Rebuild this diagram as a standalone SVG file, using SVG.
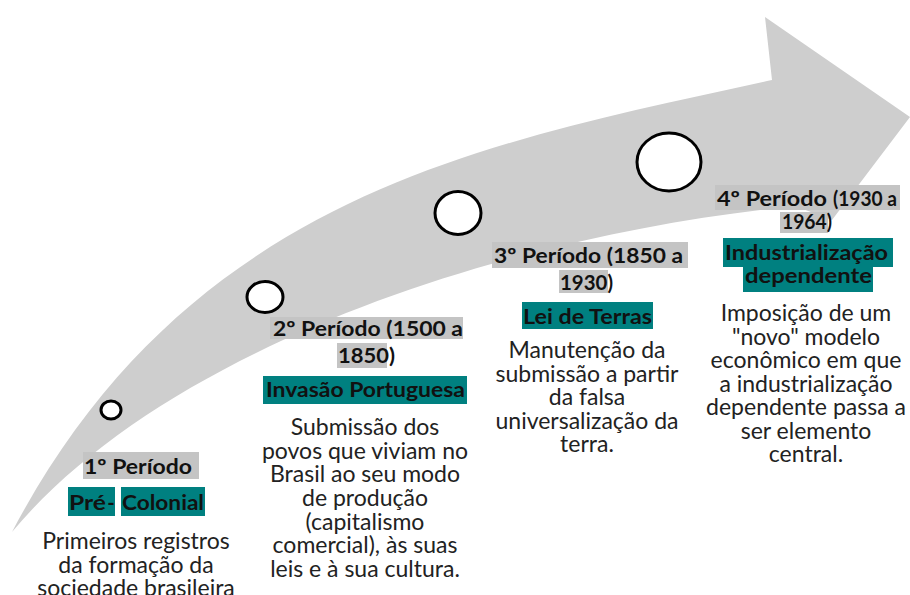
<svg xmlns="http://www.w3.org/2000/svg" width="910" height="595" viewBox="0 0 910 595">
<style>
.hl{fill:#c4c4c4}
.tl{fill:#008080}
.h{font-family:Lato,"Open Sans",sans-serif;font-weight:bold;font-size:20px;fill:#111;text-anchor:middle}
.s{text-anchor:start}
.b{font-family:Lato,"Open Sans",sans-serif;font-size:23px;fill:#222;text-anchor:middle}
.c{fill:#fff;stroke:#000;stroke-width:3}
</style>
<rect width="910" height="595" fill="#fff"/>
<g id="arrow">
<path d="M12 532 C192 190 492 142 772 80 L765 17 L910 117 L832 220 L795 206 C495 236 162 352 12 532 Z" fill="#cecece"/>
</g>
<g id="markers">
<ellipse class="c" cx="111" cy="410" rx="10" ry="9"/>
<ellipse class="c" cx="265" cy="297" rx="18" ry="15.5"/>
<ellipse class="c" cx="458" cy="213" rx="23" ry="21.5"/>
<ellipse class="c" cx="669" cy="162" rx="32" ry="29"/>
</g>
<g id="p1">
<rect class="hl" x="83" y="452" width="116" height="27"/>
<text class="h s" x="84" y="474" textLength="108" lengthAdjust="spacingAndGlyphs">1º Período</text>
<rect class="tl" x="68" y="487" width="47" height="29"/>
<rect class="tl" x="121" y="487" width="84" height="29"/>
<text class="h s" x="69" y="510" textLength="37" lengthAdjust="spacingAndGlyphs">Pré</text>
<text class="h" x="111" y="510">-</text>
<text class="h s" x="122" y="510" textLength="82" lengthAdjust="spacingAndGlyphs">Colonial</text>
<text class="b" x="136" y="549">Primeiros registros</text>
<text class="b" x="136" y="572.5">da formação da</text>
<text class="b" x="136" y="596">sociedade brasileira</text>
</g>
<g id="p2">
<rect class="hl" x="270" y="317" width="193" height="22"/>
<rect class="hl" x="337" y="343" width="50" height="25"/>
<text class="h s" x="273" y="336" textLength="190" lengthAdjust="spacingAndGlyphs">2º Período (1500 a</text>
<text class="h s" x="338" y="363" textLength="57" lengthAdjust="spacingAndGlyphs">1850)</text>
<rect class="tl" x="263" y="376" width="204" height="28"/>
<text class="h s" x="266" y="397" textLength="199" lengthAdjust="spacingAndGlyphs">Invasão Portuguesa</text>
<text class="b" x="365" y="435">Submissão dos</text>
<text class="b" x="365" y="458.7">povos que viviam no</text>
<text class="b" x="365" y="482.3">Brasil ao seu modo</text>
<text class="b" x="365" y="506">de produção</text>
<text class="b" x="365" y="529.7">(capitalismo</text>
<text class="b" x="365" y="553.3">comercial), às suas</text>
<text class="b" x="365" y="577">leis e à sua cultura.</text>
</g>
<g id="p3">
<rect class="hl" x="492" y="242" width="196" height="26"/>
<rect class="hl" x="559" y="270" width="49" height="23"/>
<text class="h s" x="494" y="263" textLength="189" lengthAdjust="spacingAndGlyphs">3º Período (1850 a</text>
<text class="h s" x="560" y="290" textLength="53" lengthAdjust="spacingAndGlyphs">1930)</text>
<rect class="tl" x="522" y="302" width="131" height="27"/>
<text class="h s" x="523" y="324" textLength="129" lengthAdjust="spacingAndGlyphs">Lei de Terras</text>
<text class="b" x="587" y="358">Manutenção da</text>
<text class="b" x="587" y="381.5">submissão a partir</text>
<text class="b" x="587" y="405">da falsa</text>
<text class="b" x="587" y="428.5">universalização da</text>
<text class="b" x="587" y="452">terra.</text>
</g>
<g id="p4">
<rect class="hl" x="715" y="185" width="185" height="25"/>
<rect class="hl" x="780" y="212" width="48" height="21"/>
<text class="h s" x="717" y="206" textLength="110" lengthAdjust="spacingAndGlyphs">4º Período</text>
<text class="h s" x="833" y="206" font-size="17" textLength="64" lengthAdjust="spacingAndGlyphs">(1930 a</text>
<text class="h s" x="782" y="229" font-size="17" textLength="50" lengthAdjust="spacingAndGlyphs">1964)</text>
<rect class="tl" x="723" y="238" width="170" height="29"/>
<rect class="tl" x="743" y="267" width="130" height="25"/>
<text class="h s" x="725" y="260" textLength="163" lengthAdjust="spacingAndGlyphs">Industrialização</text>
<text class="h s" x="745" y="283" textLength="127" lengthAdjust="spacingAndGlyphs">dependente</text>
<text class="b" x="806" y="321">Imposição de um</text>
<text class="b" x="806" y="344.5">"novo" modelo</text>
<text class="b" x="806" y="368">econômico em que</text>
<text class="b" x="806" y="391.5">a industrialização</text>
<text class="b" x="806" y="415">dependente passa a</text>
<text class="b" x="806" y="438.5">ser elemento</text>
<text class="b" x="806" y="462">central.</text>
</g>
</svg>
